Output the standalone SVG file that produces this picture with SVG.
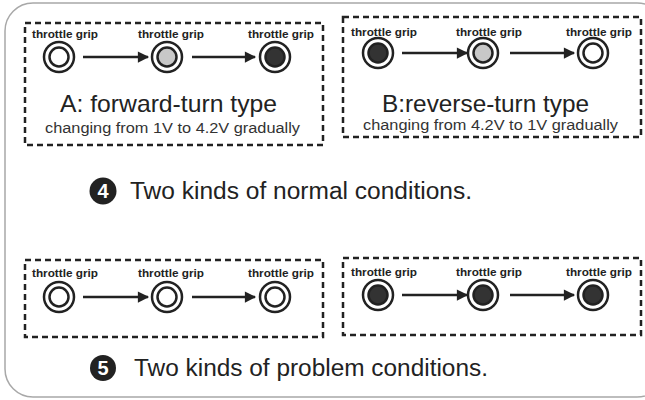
<svg xmlns="http://www.w3.org/2000/svg" width="645" height="400" viewBox="0 0 645 400">
<defs>
<style>
.frame{fill:none;stroke:#a8a8a8;stroke-width:1.5}
.box{fill:none;stroke:#222;stroke-width:2.5;stroke-dasharray:6 4}
.lbl{font-family:"Liberation Sans",Arial,sans-serif;font-weight:bold;font-size:11px;fill:#222;text-anchor:middle}
.title{font-family:"Liberation Sans",Arial,sans-serif;font-size:24px;fill:#222;text-anchor:middle}
.sub{font-family:"Liberation Sans",Arial,sans-serif;font-size:14px;fill:#333;text-anchor:middle}
.cap{font-family:"Liberation Sans",Arial,sans-serif;font-size:23px;fill:#222}
.num{font-family:"Liberation Sans",Arial,sans-serif;font-size:20px;font-weight:bold;fill:#fff;text-anchor:middle}
.ring{fill:#fff;stroke:#222;stroke-width:2.5}
.in-w{fill:#fff;stroke:#222;stroke-width:2.5}
.in-g{fill:#c8c8c8;stroke:#222;stroke-width:2.5}
.in-d{fill:#333;stroke:#222;stroke-width:2.5}
.arr{stroke:#222;stroke-width:2.5;fill:none}
</style>
<marker id="ah" viewBox="0 0 10 10" refX="9" refY="5" markerWidth="5" markerHeight="4.5" markerUnits="strokeWidth" orient="auto">
<path d="M0,0 L10,5 L0,10 Z" fill="#222"/>
</marker>
</defs>
<rect width="645" height="400" fill="#fff"/>
<rect class="frame" x="5" y="3" width="660" height="394" rx="28"/>

<g id="boxA">
<rect class="box" x="25" y="23" width="298" height="122"/>
<text class="title" x="168.5" y="112" textLength="217" lengthAdjust="spacingAndGlyphs">A: forward-turn type</text>
<text class="sub" x="172.5" y="133" textLength="255" lengthAdjust="spacingAndGlyphs">changing from 1V to 4.2V gradually</text>
</g>
<g id="a1"><text class="lbl" x="65" y="38" textLength="66" lengthAdjust="spacingAndGlyphs">throttle grip</text><circle class="ring" cx="59" cy="57" r="15"/><circle class="in-w" cx="59" cy="57" r="9.5"/></g>
<g id="a2"><text class="lbl" x="171" y="38" textLength="66" lengthAdjust="spacingAndGlyphs">throttle grip</text><circle class="ring" cx="167" cy="57" r="15"/><circle class="in-g" cx="167" cy="57" r="9.5"/></g>
<g id="a3"><text class="lbl" x="281" y="38" textLength="66" lengthAdjust="spacingAndGlyphs">throttle grip</text><circle class="ring" cx="275" cy="57" r="15"/><circle class="in-d" cx="275" cy="57" r="9.5"/></g>

<g id="boxB">
<rect class="box" x="343" y="17" width="298" height="120"/>
<text class="title" x="485.5" y="112" textLength="207" lengthAdjust="spacingAndGlyphs">B:reverse-turn type</text>
<text class="sub" x="490.5" y="130" textLength="255" lengthAdjust="spacingAndGlyphs">changing from 4.2V to 1V gradually</text>
</g>
<g id="b1"><text class="lbl" x="384" y="36" textLength="66" lengthAdjust="spacingAndGlyphs">throttle grip</text><circle class="ring" cx="378" cy="53" r="15"/><circle class="in-d" cx="378" cy="53" r="9.5"/></g>
<g id="b2"><text class="lbl" x="489" y="36" textLength="66" lengthAdjust="spacingAndGlyphs">throttle grip</text><circle class="ring" cx="483" cy="53" r="15"/><circle class="in-g" cx="483" cy="53" r="9.5"/></g>
<g id="b3"><text class="lbl" x="599" y="36" textLength="66" lengthAdjust="spacingAndGlyphs">throttle grip</text><circle class="ring" cx="593" cy="53" r="15"/><circle class="in-w" cx="593" cy="53" r="9.5"/></g>

<g id="cap4">
<circle cx="103" cy="191" r="13.5" fill="#222"/>
<text class="num" x="103" y="198">4</text>
<text class="cap" x="130" y="199" textLength="342" lengthAdjust="spacingAndGlyphs">Two kinds of normal conditions.</text>
</g>

<g id="boxC"><rect class="box" x="25" y="260" width="298" height="77"/></g>
<g id="c1"><text class="lbl" x="65" y="277" textLength="66" lengthAdjust="spacingAndGlyphs">throttle grip</text><circle class="ring" cx="59" cy="297" r="15"/><circle class="in-w" cx="59" cy="297" r="9.5"/></g>
<g id="c2"><text class="lbl" x="171" y="277" textLength="66" lengthAdjust="spacingAndGlyphs">throttle grip</text><circle class="ring" cx="167" cy="297" r="15"/><circle class="in-w" cx="167" cy="297" r="9.5"/></g>
<g id="c3"><text class="lbl" x="281" y="277" textLength="66" lengthAdjust="spacingAndGlyphs">throttle grip</text><circle class="ring" cx="275" cy="297" r="15"/><circle class="in-w" cx="275" cy="297" r="9.5"/></g>

<g id="boxD"><rect class="box" x="343" y="258" width="298" height="77"/></g>
<g id="d1"><text class="lbl" x="384" y="276" textLength="66" lengthAdjust="spacingAndGlyphs">throttle grip</text><circle class="ring" cx="378" cy="295" r="15"/><circle class="in-d" cx="378" cy="295" r="9.5"/></g>
<g id="d2"><text class="lbl" x="489" y="276" textLength="66" lengthAdjust="spacingAndGlyphs">throttle grip</text><circle class="ring" cx="483" cy="295" r="15"/><circle class="in-d" cx="483" cy="295" r="9.5"/></g>
<g id="d3"><text class="lbl" x="599" y="276" textLength="66" lengthAdjust="spacingAndGlyphs">throttle grip</text><circle class="ring" cx="593" cy="295" r="15"/><circle class="in-d" cx="593" cy="295" r="9.5"/></g>

<g id="cap5">
<circle cx="103" cy="368" r="13" fill="#222"/>
<text class="num" x="103" y="375">5</text>
<text class="cap" x="134" y="376" textLength="354" lengthAdjust="spacingAndGlyphs">Two kinds of problem conditions.</text>
</g>

<g id="connectors">
<line class="arr" x1="83" y1="57" x2="148" y2="57" marker-end="url(#ah)"/>
<line class="arr" x1="192" y1="57" x2="255" y2="57" marker-end="url(#ah)"/>
<line class="arr" x1="402" y1="53" x2="467" y2="53" marker-end="url(#ah)"/>
<line class="arr" x1="510" y1="53" x2="574" y2="53" marker-end="url(#ah)"/>
<line class="arr" x1="83" y1="297" x2="148" y2="297" marker-end="url(#ah)"/>
<line class="arr" x1="192" y1="297" x2="255" y2="297" marker-end="url(#ah)"/>
<line class="arr" x1="402" y1="295" x2="467" y2="295" marker-end="url(#ah)"/>
<line class="arr" x1="510" y1="295" x2="574" y2="295" marker-end="url(#ah)"/>
</g>
</svg>
